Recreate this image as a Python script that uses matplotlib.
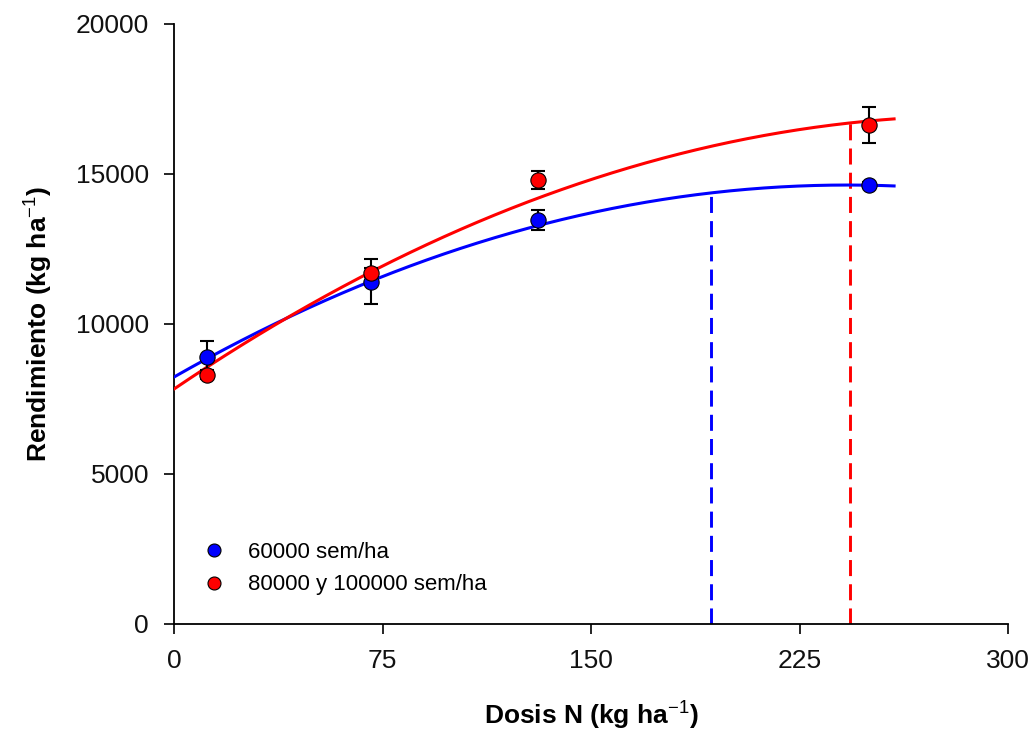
import numpy as np
import matplotlib
matplotlib.use("Agg")
import matplotlib.pyplot as plt

plt.rcParams['font.family'] = ['Liberation Sans', 'DejaVu Sans']
plt.rcParams['mathtext.fontset'] = 'custom'
plt.rcParams['mathtext.rm'] = 'Liberation Sans'
plt.rcParams['mathtext.bf'] = 'Liberation Sans:bold'

# ---- data ----
dosis = [12, 71, 131, 250]
rend_60 = [8900, 11400, 13470, 14630]
err_60 = [540, 750, 340, 100]
rend_80 = [8300, 11700, 14800, 16630]
err_80 = [150, 150, 300, 610]

# quadratic fits: a + b*x + c*x^2
fit_60 = [8233, 52.83, -0.10905]
fit_80 = [7833, 62.75, -0.10807]
fit_xmax = 259
opt_60 = 193
opt_80 = 243

labels = ['60000 sem/ha', '80000 y 100000 sem/ha']
colors = ['#0000ff', '#ff0000']
xticks = [0, 75, 150, 225, 300]
yticks = [0, 5000, 10000, 15000, 20000]

fig = plt.figure(figsize=(10.30, 7.31), dpi=100)
ax = fig.add_axes([0.169, 0.1464, 0.8097, 0.8208])

def quad(p, x):
    x = np.asarray(x, dtype=float)
    return p[0] + p[1] * x + p[2] * x ** 2

xs = np.linspace(0, fit_xmax, 300)
for p, col, opt in [(fit_60, colors[0], opt_60), (fit_80, colors[1], opt_80)]:
    ax.plot(xs, quad(p, xs), color=col, lw=2.2, zorder=3)
    ax.plot([opt, opt], [0, quad(p, opt)], color=col, lw=2.1,
            ls=(0, (5.5, 2.8)), zorder=2)

for y, e, col, lab in [(rend_60, err_60, colors[0], labels[0]),
                       (rend_80, err_80, colors[1], labels[1])]:
    ax.errorbar(dosis, y, yerr=e, fmt='none', ecolor='black', elinewidth=1.5,
                capsize=5, capthick=1.5, zorder=4)
    ax.plot(dosis, y, 'o', color=col, mec='black', mew=0.8, ms=11,
            zorder=5, label=lab)

ax.set_xlim(0, 300)
ax.set_ylim(0, 20000)
ax.set_xticks(xticks)
ax.set_yticks(yticks)
ax.tick_params(axis='both', direction='out', length=7, width=1.2,
               labelsize=19, pad=11, labelcolor='#111111')
for s in ['top', 'right']:
    ax.spines[s].set_visible(False)
for s in ['left', 'bottom']:
    ax.spines[s].set_linewidth(1.3)

ax.set_xlabel(r'Dosis N (kg ha$^{-1}$)', fontsize=19, fontweight='bold',
              labelpad=18)
ax.set_ylabel(r'Rendimiento (kg ha$^{-1}$)', fontsize=19,
              fontweight='bold', labelpad=16)

leg = ax.legend(loc='lower left', bbox_to_anchor=(0.01, 0.033), frameon=False,
                fontsize=16, handletextpad=0.55, labelspacing=0.5,
                borderaxespad=0, markerscale=0.85)

fig.savefig('out.png', dpi=100)
